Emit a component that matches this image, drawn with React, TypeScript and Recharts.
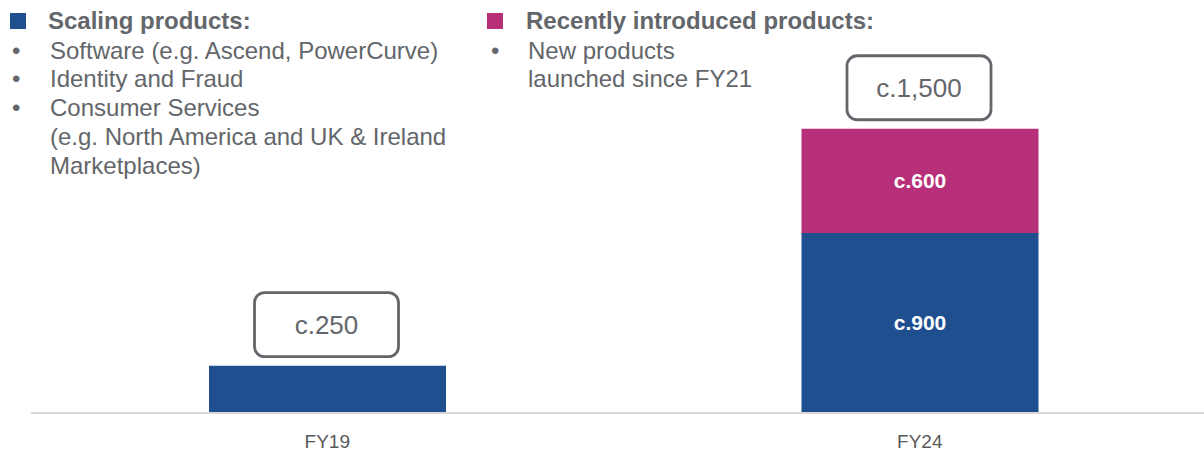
import React from "react";
import { BarChart, Bar, XAxis, YAxis, LabelList } from "recharts";

const categories = ["FY19", "FY24"];
const scalingValues = [250, 950];
const recentValues = [0, 550];
const totalLabels = ["c.250", "c.1,500"];
const scalingLabels = ["", "c.900"];
const recentLabels = ["", "c.600"];

const scalingLegendTitle = "Scaling products:";
const scalingLegendItems = [
  ["Software (e.g. Ascend, PowerCurve)"],
  ["Identity and Fraud"],
  ["Consumer Services", "(e.g. North America and UK & Ireland", "Marketplaces)"],
];
const recentLegendTitle = "Recently introduced products:";
const recentLegendItems = [["New products", "launched since FY21"]];

const BLUE = "#1f4f8f";
const PINK = "#b82f79";
const GRAY = "#63666a";

const data = categories.map((c, i) => ({
  cat: c,
  scaling: scalingValues[i],
  recent: recentValues[i],
  totalOnScaling: recentValues[i] > 0 ? "" : totalLabels[i],
  totalOnRecent: recentValues[i] > 0 ? totalLabels[i] : "",
  scalingLabel: scalingLabels[i],
  recentLabel: recentLabels[i],
}));

const TotalBox = (props: any) => {
  if (!props.value) return null;
  const vb = props.viewBox || {};
  const x = props.x ?? vb.x;
  const y = props.y ?? vb.y;
  const w = props.width ?? vb.width;
  const h = props.height ?? vb.height;
  const top = Math.min(y, y + h);
  const cx = x + w / 2 - 1;
  const bw = 144;
  const bh = 64;
  const by = top - 9 - bh;
  return (
    <g>
      <rect x={cx - bw / 2} y={by} width={bw} height={bh} rx={10} ry={10} fill="#fff" stroke={GRAY} strokeWidth={2.8} />
      <text x={cx} y={by + bh / 2} textAnchor="middle" dominantBaseline="central" fontSize={26} fill={GRAY}>
        {props.value}
      </text>
    </g>
  );
};

const textStyle: React.CSSProperties = {
  position: "absolute",
  fontSize: 24,
  lineHeight: "28.8px",
  color: GRAY,
  whiteSpace: "nowrap",
};

function LegendBlock({ left, color, title, items, textLeft, bulletLeft }: any) {
  const lines: { text: string; bullet: boolean }[] = [];
  items.forEach((it: string[]) => it.forEach((t, j) => lines.push({ text: t, bullet: j === 0 })));
  return (
    <>
      <div style={{ position: "absolute", left, top: 13, width: 16, height: 16, background: color }} />
      <div style={{ ...textStyle, left: textLeft - 2, top: 6.5, fontWeight: "bold" }}>{title}</div>
      {lines.map((l, i) => (
        <React.Fragment key={i}>
          {l.bullet && <div style={{ ...textStyle, left: bulletLeft, top: 36.5 + i * 28.8 }}>•</div>}
          <div style={{ ...textStyle, left: textLeft, top: 36.5 + i * 28.8 }}>{l.text}</div>
        </React.Fragment>
      ))}
    </>
  );
}

export default function App() {
  return (
    <div
      style={{
        position: "absolute",
        left: 0,
        top: 0,
        width: 1204,
        height: 454,
        overflow: "hidden",
        background: "#fff",
        fontFamily: "'Liberation Sans', Arial, sans-serif",
      }}
    >
      <div style={{ position: "absolute", left: 0, top: 0 }}>
        <BarChart width={1216} height={454} data={data} margin={{ top: 34, right: 0, bottom: 0, left: 31 }} barSize={237}>
          <XAxis
            dataKey="cat"
            height={41}
            axisLine={{ stroke: "#d9d9d9", strokeWidth: 2 }}
            tickLine={false}
            tickSize={0}
            tickMargin={22}
            tick={{ fill: "#595959", fontSize: 19 }}
          />
          <YAxis hide domain={[0, 2000]} />
          <Bar dataKey="scaling" stackId="a" fill={BLUE} isAnimationActive={false}>
            <LabelList dataKey="scalingLabel" position="center" fill="#fff" fontSize={21} fontWeight="bold" />
            <LabelList dataKey="totalOnScaling" content={TotalBox} />
          </Bar>
          <Bar dataKey="recent" stackId="a" fill={PINK} isAnimationActive={false}>
            <LabelList dataKey="recentLabel" position="center" fill="#fff" fontSize={21} fontWeight="bold" />
            <LabelList dataKey="totalOnRecent" content={TotalBox} />
          </Bar>
        </BarChart>
      </div>
      <LegendBlock left={10} color={BLUE} title={scalingLegendTitle} items={scalingLegendItems} textLeft={50} bulletLeft={12} />
      <LegendBlock left={487} color={PINK} title={recentLegendTitle} items={recentLegendItems} textLeft={528} bulletLeft={491} />
    </div>
  );
}
